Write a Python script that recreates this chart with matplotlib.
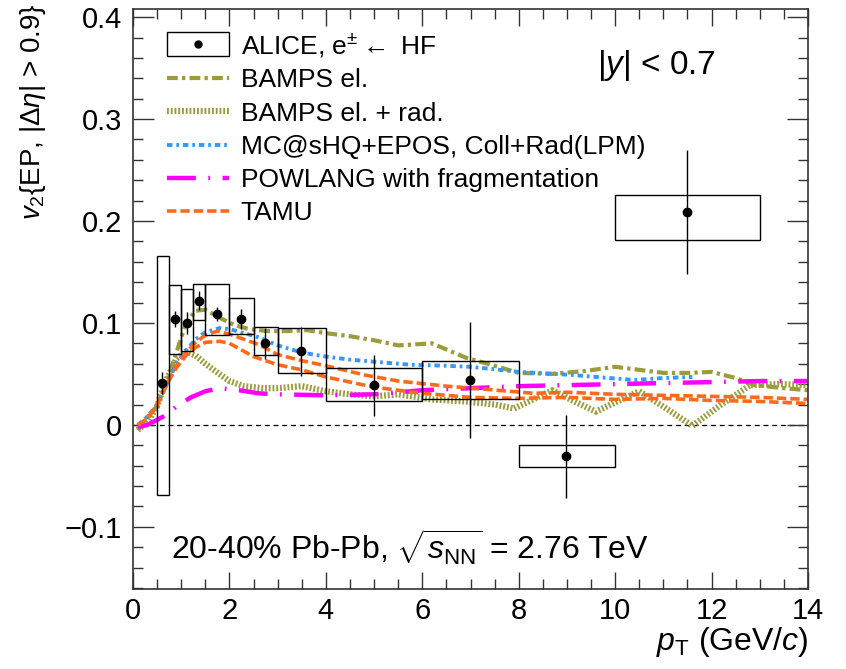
import numpy as np
import matplotlib
matplotlib.use("Agg")
import matplotlib.pyplot as plt
from matplotlib.patches import Rectangle
from matplotlib.lines import Line2D
from matplotlib.legend_handler import HandlerTuple, HandlerPatch
from matplotlib.ticker import MultipleLocator, FuncFormatter

plt.rcParams['font.family'] = ['Liberation Sans', 'DejaVu Sans']
plt.rcParams['mathtext.fontset'] = 'custom'
plt.rcParams['mathtext.rm'] = 'Liberation Sans'
plt.rcParams['mathtext.it'] = 'Liberation Sans:italic'
plt.rcParams['mathtext.sf'] = 'Liberation Sans'

# ALICE data: e from heavy-flavour decays
pt = [0.61, 0.865, 1.11, 1.37, 1.74, 2.24, 2.74, 3.48, 4.99, 6.98, 8.98, 11.49]
v2 = [0.041, 0.104, 0.100, 0.122, 0.109, 0.104, 0.080, 0.072, 0.039, 0.044, -0.031, 0.209]
stat = [0.011, 0.008, 0.011, 0.009, 0.007, 0.010, 0.015, 0.024, 0.030, 0.057, 0.041, 0.061]
sys_lo = [-0.069, 0.070, 0.072, 0.103, 0.088, 0.089, 0.069, 0.051, 0.023, 0.025, -0.041, 0.181]
sys_hi = [0.166, 0.137, 0.133, 0.138, 0.138, 0.124, 0.096, 0.095, 0.056, 0.063, -0.020, 0.226]
bin_lo = [0.5, 0.75, 1.0, 1.25, 1.5, 2.0, 2.5, 3.0, 4.0, 6.0, 8.0, 10.0]
bin_hi = [0.75, 1.0, 1.25, 1.5, 2.0, 2.5, 3.0, 4.0, 6.0, 8.0, 10.0, 13.0]

# model curves
bamps_el_x = [0.1, 0.3, 0.5, 0.7, 0.9, 1.1, 1.3, 1.5, 1.8, 2.1, 2.4, 2.8, 3.2, 3.6, 4.0, 4.5,
              5.0, 5.5, 6.2, 6.9, 7.5, 8.0, 8.7, 9.4, 10.0, 10.5, 11.0, 11.5, 12.0, 12.5, 12.9, 13.5, 14.0]
bamps_el_y = [-0.005, 0.008, 0.018, 0.042, 0.071, 0.100, 0.112, 0.113, 0.105, 0.098, 0.094, 0.092,
              0.092, 0.093, 0.090, 0.087, 0.083, 0.078, 0.080, 0.066, 0.058, 0.051, 0.050, 0.053,
              0.057, 0.054, 0.051, 0.051, 0.052, 0.046, 0.039, 0.036, 0.034]

bamps_rad_x = [0.1, 0.3, 0.5, 0.7, 0.9, 1.1, 1.3, 1.5, 1.7, 2.0, 2.3, 2.7, 3.0, 3.5, 4.0, 4.5, 5.0,
               5.5, 6.2, 6.9, 7.5, 7.9, 8.3, 8.7, 9.2, 9.6, 10.0, 10.5, 11.0, 11.6, 12.2, 12.8, 13.4, 14.0]
bamps_rad_y = [-0.005, 0.003, 0.018, 0.045, 0.065, 0.072, 0.068, 0.060, 0.053, 0.043, 0.038, 0.036,
               0.036, 0.038, 0.033, 0.030, 0.028, 0.030, 0.025, 0.023, 0.020, 0.016, 0.025, 0.034,
               0.022, 0.013, 0.022, 0.033, 0.018, -0.001, 0.020, 0.039, 0.040, 0.039]

mcshq_x = [0.1, 0.3, 0.5, 0.7, 0.9, 1.1, 1.3, 1.5, 1.8, 2.0, 2.3, 2.6, 3.0, 3.5, 4.0, 4.5, 5.0,
           5.75, 6.5, 7.0, 8.0, 9.1, 10.4, 11.0, 11.6]
mcshq_y = [0.000, 0.008, 0.020, 0.040, 0.060, 0.073, 0.084, 0.091, 0.095, 0.094, 0.090, 0.086,
           0.078, 0.071, 0.067, 0.064, 0.062, 0.059, 0.058, 0.057, 0.052, 0.049, 0.044, 0.046, 0.047]

powlang_x = [0.1, 0.3, 0.5, 0.7, 0.9, 1.2, 1.5, 1.8, 2.2, 2.6, 3.0, 4.0, 5.0, 6.0, 7.0, 8.0, 9.0,
             10.0, 11.0, 12.0, 13.0, 14.0]
powlang_y = [-0.002, 0.000, 0.005, 0.010, 0.018, 0.027, 0.033, 0.036, 0.034, 0.031, 0.030, 0.029,
             0.030, 0.034, 0.036, 0.038, 0.039, 0.040, 0.041, 0.042, 0.043, 0.043]

tamu_up_x = [0.1, 0.3, 0.5, 0.7, 0.9, 1.1, 1.3, 1.5, 1.75, 2.0, 2.3, 2.6, 3.0, 3.5, 4.0, 4.8, 5.5,
             6.5, 7.3, 8.3, 9.0, 10.0, 11.0, 12.0, 13.0, 14.0]
tamu_up_y = [0.000, 0.006, 0.020, 0.040, 0.058, 0.071, 0.081, 0.088, 0.092, 0.089, 0.084, 0.079,
             0.069, 0.063, 0.058, 0.049, 0.043, 0.038, 0.035, 0.031, 0.032, 0.030, 0.029, 0.028,
             0.027, 0.025]
tamu_lo_x = [0.1, 0.3, 0.5, 0.7, 0.9, 1.1, 1.3, 1.5, 1.8, 2.0, 2.5, 3.0, 3.5, 4.0, 5.0, 6.0, 7.0,
             8.0, 9.0, 10.0, 11.0, 12.0, 13.0, 14.0]
tamu_lo_y = [0.000, 0.006, 0.020, 0.040, 0.056, 0.068, 0.076, 0.081, 0.082, 0.080, 0.067, 0.059,
             0.054, 0.047, 0.037, 0.031, 0.027, 0.026, 0.027, 0.025, 0.026, 0.024, 0.023, 0.021]

olive = '#9c9c3c'
blue = '#3399ff'
magenta = '#ff00ff'
orange = '#ff6a1a'

fig = plt.figure(figsize=(8.46, 6.69), dpi=100)
ax = fig.add_axes([133 / 846, 1 - 589 / 669, 675 / 846, 580 / 669])

# models
l_el, = ax.plot(bamps_el_x, bamps_el_y, color=olive, lw=3, dashes=(2.6, 1.0, 0.8, 1.0))
l_rad, = ax.plot(bamps_rad_x, bamps_rad_y, color=olive, lw=4.5, dashes=(0.3, 0.3))
l_mc, = ax.plot(mcshq_x, mcshq_y, color=blue, lw=2.8, dashes=(1.4, 1.0, 0.7, 1.0))
l_pow, = ax.plot(powlang_x, powlang_y, color=magenta, lw=3.2, dashes=(6.5, 2.8, 0.4, 2.8))
l_tamu, = ax.plot(tamu_up_x, tamu_up_y, color=orange, lw=2.6, dashes=(2.6, 1.1))
ax.plot(tamu_lo_x, tamu_lo_y, color=orange, lw=2.6, dashes=(2.6, 1.1))

# data: systematic boxes, statistical bars, points
for lo, hi, ylo, yhi in zip(bin_lo, bin_hi, sys_lo, sys_hi):
    ax.add_patch(Rectangle((lo, ylo), hi - lo, yhi - ylo, fill=False, ec='black', lw=1.0, zorder=4))
ax.errorbar(pt, v2, yerr=stat, fmt='o', color='black', ms=6, elinewidth=1.0, capsize=0, zorder=5)

ax.axhline(0, color='black', lw=0.9, ls=(0, (4, 3)), zorder=1)

ax.set_xlim(0, 14)
ax.set_ylim(-0.161, 0.408)
ax.xaxis.set_major_locator(MultipleLocator(2))
ax.xaxis.set_minor_locator(MultipleLocator(0.5))
ax.yaxis.set_major_locator(MultipleLocator(0.1))
ax.yaxis.set_minor_locator(MultipleLocator(0.02))
ax.yaxis.set_major_formatter(FuncFormatter(lambda v, p: ('%g' % round(v, 3)).replace('-', '\u2212')))
ax.tick_params(which='both', direction='in', top=True, right=True, labelsize=21, width=1.0,
               color='#333333')
ax.tick_params(axis='y', which='major', length=15, pad=8)
ax.tick_params(axis='x', which='major', length=12, pad=6)
ax.tick_params(which='minor', length=7.5)
for s in ax.spines.values():
    s.set_linewidth(1.2)
    s.set_color('#333333')

ax.set_xlabel(r'$p_{\rm T}$ (GeV/$c$)', fontsize=23, ha='right', x=1.0, labelpad=0)
ax.text(-0.148, 1.01, r'$v_2$$\{$EP, $|\Delta\eta|$ > 0.9$\}$', transform=ax.transAxes,
        rotation=90, ha='center', va='top', fontsize=20)

ax.text(0.687, 0.903, r'$|y|$ < 0.7', transform=ax.transAxes, fontsize=24, va='center')
ax.text(0.056, 0.071, r'20-40% Pb-Pb, $\sqrt{s_{\rm NN}}$ = 2.76 TeV', transform=ax.transAxes,
        fontsize=23, va='center')

# legend
box_h = Rectangle((0, 0), 1, 1, fill=False, ec='black', lw=1.0)
dot_h = Line2D([], [], ls='none', marker='o', color='black', ms=5)


def tall_rect(legend, orig_handle, xdescent, ydescent, width, height, fontsize):
    return Rectangle((-xdescent, -ydescent - 0.15 * height), width, height * 1.3)


handles = [(box_h, dot_h), l_el, l_rad, l_mc, l_pow, l_tamu]
labels = [r'ALICE, e$^{\pm}$$\leftarrow$ HF', 'BAMPS el.', 'BAMPS el. + rad.',
          'MC@sHQ+EPOS, Coll+Rad(LPM)', 'POWLANG with fragmentation', 'TAMU']
leg = ax.legend(handles, labels, loc='upper left', bbox_to_anchor=(0.05, 0.962), frameon=False,
                fontsize=19, handlelength=2.35, handletextpad=0.45, labelspacing=0.35, borderpad=0,
                borderaxespad=0,
                handler_map={tuple: HandlerTuple(ndivide=1, pad=0),
                             Rectangle: HandlerPatch(patch_func=tall_rect)})

fig.savefig('out.png', dpi=100)
